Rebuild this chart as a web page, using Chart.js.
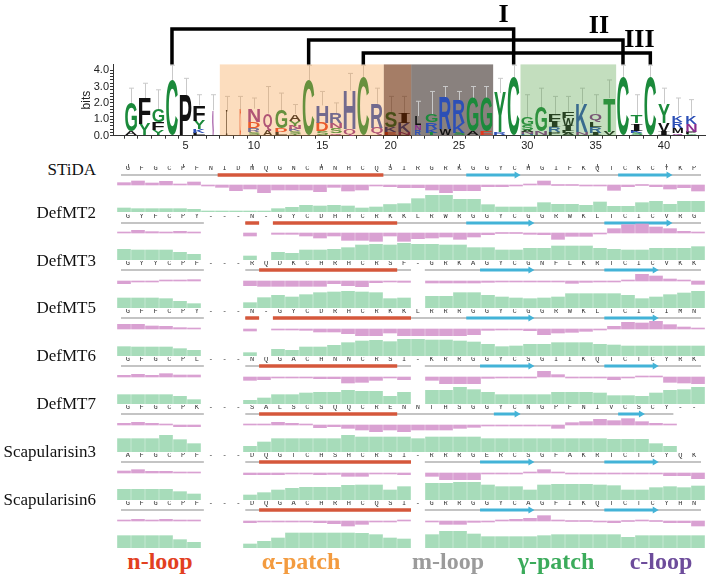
<!DOCTYPE html>
<html>
<head>
<meta charset="utf-8">
<script src="https://cdn.jsdelivr.net/npm/chart.js@4.4.1/dist/chart.umd.min.js"></script>
<style>
  body { margin: 0; background: #fff; }
  #fig { position: relative; width: 709px; height: 576px; overflow: hidden; background: #fff; }
  #fig canvas { position: absolute; }
  .name { position: absolute; left: 0; width: 96px; text-align: right; font: 17px "Liberation Serif", serif; line-height: 17px; color: #111; white-space: nowrap; }
  .part { position: absolute; width: 140px; text-align: center; font: bold 24px "Liberation Serif", serif; line-height: 24px; white-space: nowrap; }
</style>
</head>
<body>
<div id="fig"></div>
<script>
// alignment rows
const names = ['STiDA', 'DefMT2', 'DefMT3', 'DefMT5', 'DefMT6', 'DefMT7', 'Scapularisin3', 'Scapularisin6'];
const sequences = [
  'GFGCPFNIDNQGNCHNHCQSIRGRKGGYCHGIFKQTCKCYKP',
  'GYFCPY---N-GYCDHHCRKKLRWRGGYCGGRWKLTCICVRG',
  'GYYCPF---RQDKCHRHCRSF-GRKAGYCGNFLKRTCICVKK',
  'GFFCPY---N-GYCDRHCRKKLRRRGGYCGGRWKLTCICIMN',
  'GFGCPL---NQGACHNNCRSI-KRRGGYCSGIIKQTCTCYRK',
  'GFGCPK---SALSCSQQCRENNTHSGGYCNGPFNIVCSCY--',
  'AFGCPF---DQGTCHSHCRSI-RRRGERCSGFAKRTCTCYQK',
  'GFGCPF---DQGACHRHCQSI-GRRGGYCAGFIKQTCTCYHN'
];
// secondary structure: C coil, H helix, E strand, . gap
const structures = [
  'CCCCCCCHHHHHHHHHHHHCCCCCCEEEECCCCCCCEEEECC',
  'CCCCCC...H.HHHHHHHHHCCCCCEEEEECCCCCEEEEECC',
  'CCCCCC...CHHHHHHHHHHC.CCCCEEEECCCCCEEEECCC',
  'CCCCCC...H.HHHHHHHHHHCCCCEEEEECCCCCEEEECCC',
  'CCCCCC...CHHHHHHHHHHC.CCCCEEEECCCCCEEEECCC',
  'CCCCCC...CHHHHHHHHHHCCCCCCCEECCCCCCCEECC..',
  'CCCCCC...CHHHHHHHHHHH.CCCCEEEECCCCCEEEECCC',
  'CCCCCC...CHHHHHHHHHHH.CCCCEEEECCCCCEEEECCC'
];

// hydropathy (pink) per row
const kdSTiDA  = [0.7,1.2,0.6,1.1,0.1,0.9,-0.1,-0.7,-1.7,-1.2,-2.3,-1.5,-1.5,-1.5,-2.0,-0.7,-1.8,-1.5,-0.1,-0.5,-0.8,-0.8,-1.5,-2.3,-1.7,-1.7,-0.5,-0.5,-0.3,0.3,1.2,0,0,-0.2,-0.3,-1.6,-0.5,0,-0.5,-1.2,-0.8,-1.8];
const kdDefMT2 = [0.3,0.8,0.4,0.2,0.5,0.2,null,null,null,-0.9,null,-0.4,-0.4,-0.9,-1.5,-0.9,-2.2,-2.2,-2.5,-0.9,-2.5,-1.7,-1.5,-1.2,-1.9,-1.2,-0.5,0,0,-0.4,-0.5,-1.9,-1.0,-1.0,-0.1,1.3,2.5,2.7,1.8,1.3,0.5,0.2];
const kdDefMT3 = [-0.8,-0.2,-0.2,0.1,0.2,0.4,null,null,null,-1.4,-1.6,-1.6,-1.6,-1.6,-1.6,-0.8,-1.4,-1.7,-0.5,-0.2,-0.4,null,-0.6,-0.6,-0.6,-0.6,-0.4,-0.3,-0.3,-0.2,-0.2,-0.1,-0.7,-0.4,-0.3,-0.2,0.3,2.0,1.5,0.6,0.2,-1.0];
const kdDefMT5 = [1.4,1.4,0.9,0.8,0.4,0.1,null,null,null,-0.6,null,-0.3,-0.3,-0.4,-0.9,-0.9,-1.4,-2.0,-2.0,-1.2,-2.0,-2.0,-2.0,-2.0,-2.0,-1.7,-0.4,-0.2,-0.1,-0.5,-1.7,-1.2,-1.0,-0.7,-0.1,0.8,2.0,1.8,2.3,1.3,0.6,0.3];
const kdDefMT6 = [0.5,0.8,0.5,1.0,0.6,0.6,null,null,null,-1.0,-0.8,-0.3,-0.3,-0.3,-0.5,-0.5,-1.8,-1.6,-1.0,-0.2,-0.8,null,-1.0,-2.0,-2.0,-2.0,-0.4,-0.1,-0.1,-0.2,1.7,0.7,-0.1,-0.1,-0.1,-0.8,-0.1,0.2,0.1,-1.6,-1.8,-2.0];
const kdDefMT7 = [0.5,0.8,0.5,0.1,-0.5,-0.5,null,null,null,0.3,0.3,0.8,0.5,0.1,-0.8,-0.5,-1.0,-1.5,-2.0,-1.5,-2.0,-1.5,-1.5,-1.5,-1.0,-0.7,-0.1,-0.1,-0.1,-0.3,-0.1,-1.0,0.7,1.0,1.7,1.3,1.9,1.0,0.5,0.1,null,null];
const kdScap3  = [0.6,1.0,0.5,0.5,0.2,0.2,null,null,null,-0.5,-0.5,-0.5,-0.3,-0.3,-0.5,-0.4,-1.0,-1.0,-0.3,-0.1,-0.5,null,-1.0,-2.0,-2.0,-2.0,-0.3,-0.1,-0.1,0.1,1.0,0.1,-0.3,-0.3,-0.3,-0.3,-0.1,-0.1,-0.1,-0.8,-0.8,-1.7];
const kdScap6  = [0.2,0.5,0.2,0.5,0.2,0.2,null,null,null,-0.5,-0.3,-0.2,-0.3,-0.2,-0.5,-0.8,-1.5,-1.0,-0.1,-0.1,0.2,null,-0.2,-1.0,-1.0,-0.4,-0.1,0.3,0.5,0.8,1.6,0.3,0,0,-0.2,-0.5,0,0.2,0,-0.5,-0.5,-1.5];
const hydropathy = [kdSTiDA, kdDefMT2, kdDefMT3, kdDefMT5, kdDefMT6, kdDefMT7, kdScap3, kdScap6];

// similarity (green) per row
const simSTiDA  = [24,20,20,20,20,16,2,2,2,2,2,20,28,40,36,40,36,24,30,45,50,80,100,100,76,76,44,30,30,30,56,46,46,40,60,34,34,56,64,46,64,64];
const simDefMT2 = [64,60,60,60,46,34,null,null,null,24,null,46,40,60,60,64,74,90,94,90,100,94,94,90,90,74,74,60,60,70,70,84,84,84,70,64,60,60,70,70,70,80];
const simDefMT3 = [60,60,60,56,40,26,null,null,null,32,62,76,66,80,92,96,100,96,92,56,60,null,70,70,92,92,76,66,60,56,60,66,86,86,86,86,76,56,66,80,90,100];
const simDefMT5 = [56,54,54,54,44,34,null,null,null,20,null,40,34,54,54,64,80,90,94,86,100,100,96,96,90,84,70,56,60,70,70,80,80,80,70,66,60,60,60,60,60,60];
const simDefMT6 = [56,56,56,56,46,26,null,null,null,22,36,56,56,66,70,70,82,76,76,46,70,null,82,82,100,86,70,56,56,56,56,70,70,70,66,50,50,46,66,82,86,100];
const simDefMT7 = [80,80,80,100,74,50,null,null,null,34,60,80,80,80,80,80,100,90,90,90,90,80,90,90,90,90,80,80,80,80,80,80,80,80,80,76,76,76,50,34,null,null];
const simScap3  = [64,64,64,64,50,36,null,null,null,30,44,60,70,76,76,76,88,90,90,60,80,null,100,100,106,106,90,80,80,60,90,94,94,94,90,86,60,60,74,80,74,84];
const simScap6  = [74,74,74,74,50,34,null,null,null,24,40,60,90,90,90,90,90,88,80,60,54,null,80,100,100,84,68,68,68,68,74,80,80,80,80,80,64,74,74,74,74,74];
const similarity = [simSTiDA, simDefMT2, simDefMT3, simDefMT5, simDefMT6, simDefMT7, simScap3, simScap6];

// sequence logo, letters bottom -> top with their heights in bits
const logoLetters = ['AG','YF','YFG','C','P','LKYF','N','I','D','SRDN','AQ','LDG','TSKNYA','C','SDH','QSNR','QH','C','QR','EKS',
  'NKI','RNL','TKRG','WR','SKR','AG','EG','RY','C','HNASG','NG','PRIF','ALIWF','NK','IRLQ','VT','C','SKIT','C','IVY','QMRK','GPNK'];
const logoBits = [[0.25,1.75],[0.7,1.6],[0.35,0.45,0.8],[3.4],[2.45],[0.15,0.25,0.5,0.95],[1.55],[1.55],[1.55],[0.2,0.25,0.4,0.8],
  [0.3,1.05],[0.2,0.25,1.1],[0.12,0.15,0.15,0.2,0.3,0.4],[3.4],[0.3,0.5,1.05],[0.15,0.3,0.3,0.6],[0.4,2.35],[3.55],[0.5,1.45],[0.2,0.3,0.92],
  [0.2,0.55,0.6],[0.35,0.3,0.55],[0.15,0.25,0.4,0.5],[0.4,1.95],[0.15,0.6,1.43],[0.25,2.05],[0.25,2.05],[0.2,2.4],[3.55],[0.1,0.12,0.12,0.3,0.45],
  [0.25,1.5],[0.2,0.3,0.3,0.45],[0.15,0.15,0.3,0.45,0.4],[0.2,1.73],[0.15,0.4,0.3,0.5],[0.25,2.05],[3.55],[0.15,0.15,0.45,0.5],[3.55],[0.25,0.5,1.2],
  [0.15,0.3,0.4,0.4],[0.1,0.12,0.5,0.45]];
const logoErrTop = [2.9,3.2,2.8,4.3,3.5,2.5,2.5,2.4,2.4,2.3,3.0,2.6,1.9,4.3,2.7,2.0,3.8,4.3,2.9,2.4,
  2.4,2.1,2.7,3.0,2.7,3.0,3.0,3.5,4.3,2.5,2.9,2.4,2.4,2.9,2.5,3.4,4.3,2.5,4.3,2.9,2.3,2.2];
const logoPositions = logoLetters.map((_, i) => i + 1);
const rulerPositions = [1, 5, 10, 15, 20, 25, 30, 35, 40];

// shaded logo regions (positions) and disulfide bridges
const regionStart = [7.5, 19.5, 21.5, 29.5];
const regionEnd = [19.5, 21.5, 27.5, 36.5];
const bridgeFrom = [4, 14, 18];
const bridgeTo = [29, 37, 39];
const bridgeNames = ['I', 'II', 'III'];
const partNames = ['n-loop', 'α-patch', 'm-loop', 'γ-patch', 'c-loop'];

// ---------------------------------------------------------------
const fig = document.getElementById('fig');
const COLS = sequences[0].length;
const colLabels = Array.from({ length: COLS }, (_, i) => i);
const occupancy = colLabels.map(i => sequences.filter(s => s[i] !== '-').length / sequences.length);

function addCanvas(left, top, w, h) {
  const c = document.createElement('canvas');
  c.width = w; c.height = h;
  c.style.left = left + 'px'; c.style.top = top + 'px';
  c.style.width = w + 'px'; c.style.height = h + 'px';
  fig.appendChild(c);
  return c;
}

function baseOptions() {
  return {
    responsive: false, animation: false, devicePixelRatio: 1, events: [],
    layout: { padding: 0 },
    plugins: { legend: { display: false }, tooltip: { enabled: false } }
  };
}

function aaColor(ch) {
  if ('GSTYC'.includes(ch)) return '#1b8a3b';
  if ('KRH'.includes(ch)) return '#2c4fb6';
  if ('NQ'.includes(ch)) return '#8b2f8f';
  if ('DE'.includes(ch)) return '#e3371e';
  return '#111111';
}

// I is drawn with serifs so it does not turn into a solid block when stretched
const glyphFont = ch => (ch === 'I' ? 'bold 100px "Liberation Serif"' : 'bold 100px "Liberation Sans"');
const glyphBoxes = {};
function drawGlyph(ctx, ch, x0, x1, yTop, yBot, color) {
  ctx.save();
  ctx.font = glyphFont(ch);
  if (!glyphBoxes[ch]) {
    const m = ctx.measureText(ch);
    glyphBoxes[ch] = { l: m.actualBoundingBoxLeft, r: m.actualBoundingBoxRight, a: m.actualBoundingBoxAscent, d: m.actualBoundingBoxDescent };
  }
  const g = glyphBoxes[ch];
  const w = x1 - x0, h = yBot - yTop;
  if (w > 0.3 && h > 0.3) {
    const sx = w / (g.l + g.r), sy = h / (g.a + g.d);
    ctx.fillStyle = color;
    ctx.textAlign = 'left';
    ctx.textBaseline = 'alphabetic';
    ctx.translate(x0 + g.l * sx, yBot - g.d * sy);
    ctx.scale(sx, sy);
    ctx.fillText(ch, 0, 0);
  }
  ctx.restore();
}

// ---------------- logo ----------------
const logoPlugin = {
  id: 'logoGlyphs',
  beforeDatasetsDraw(chart, args, o) {
    const ctx = chart.ctx, xs = chart.scales.x, a = chart.chartArea;
    ctx.save();
    regionStart.forEach((s, j) => {
      if (o.over[j]) return;
      ctx.fillStyle = o.colors[j];
      ctx.fillRect(xs.getPixelForValue(s), a.top, xs.getPixelForValue(regionEnd[j]) - xs.getPixelForValue(s), a.bottom - a.top);
    });
    ctx.restore();
  },
  afterDatasetsDraw(chart, args, o) {
    const ctx = chart.ctx, xs = chart.scales.x, ys = chart.scales.y, a = chart.chartArea;
    const colW = xs.getPixelForValue(2) - xs.getPixelForValue(1);
    // error bars
    ctx.save();
    ctx.strokeStyle = '#c9c9c9';
    ctx.lineWidth = 1;
    logoErrTop.forEach((t, i) => {
      const total = logoBits[i].reduce((p, v) => p + v, 0);
      const x = Math.round(xs.getPixelForValue(i + 1)) + 0.5;
      const y0 = ys.getPixelForValue(total), y1 = ys.getPixelForValue(t);
      ctx.beginPath();
      ctx.moveTo(x, y0); ctx.lineTo(x, y1);
      ctx.moveTo(x - 2.5, y1); ctx.lineTo(x + 2.5, y1);
      ctx.stroke();
    });
    ctx.restore();
    // letters
    chart.data.datasets.forEach((ds, k) => {
      chart.getDatasetMeta(k).data.forEach((bar, i) => {
        const ch = logoLetters[i][k];
        if (!ch) return;
        const p = bar.getProps(['x', 'y', 'base'], true);
        const w = colW * 0.86 * occupancy[i];
        drawGlyph(ctx, ch, p.x - w / 2, p.x + w / 2, p.y, p.base, aaColor(ch));
      });
    });
    // translucent overlays
    ctx.save();
    regionStart.forEach((s, j) => {
      if (!o.over[j]) return;
      ctx.fillStyle = o.colors[j];
      ctx.fillRect(xs.getPixelForValue(s), a.top, xs.getPixelForValue(regionEnd[j]) - xs.getPixelForValue(s), a.bottom - a.top);
    });
    ctx.restore();
  },
  afterDraw(chart, args, o) {
    const ctx = chart.ctx, xs = chart.scales.x, top = chart.chartArea.top;
    ctx.save();
    ctx.strokeStyle = '#000';
    ctx.lineWidth = 3.5;
    ctx.lineJoin = 'miter';
    bridgeFrom.forEach((f, j) => {
      const x1 = xs.getPixelForValue(f), x2 = xs.getPixelForValue(bridgeTo[j]), y = o.levels[j];
      ctx.beginPath();
      ctx.moveTo(x1, top); ctx.lineTo(x1, y); ctx.lineTo(x2, y); ctx.lineTo(x2, top);
      ctx.stroke();
      ctx.font = 'bold 26px "Liberation Serif"';
      ctx.fillStyle = '#000';
      ctx.textAlign = 'center';
      ctx.textBaseline = 'alphabetic';
      ctx.fillText(bridgeNames[j], x2 + o.labelDx[j], o.labelY[j]);
    });
    ctx.restore();
  }
};

const maxRank = Math.max(...logoLetters.map(s => s.length));
const logoDatasets = [];
for (let k = 0; k < maxRank; k++) {
  logoDatasets.push({
    data: logoBits.map((b, i) => ({ x: i + 1, y: b[k] === undefined ? null : b[k] })),
    backgroundColor: 'rgba(0,0,0,0)',
    borderWidth: 0,
    barThickness: 12
  });
}

const logoOpts = baseOptions();
logoOpts.layout = { padding: { left: 75, right: 3.8, top: 64.4, bottom: 0 } };
logoOpts.scales = {
  x: {
    type: 'linear', min: 0.2, max: 42.5, stacked: true,
    afterBuildTicks: s => { s.ticks = logoPositions.map(v => ({ value: v })); },
    afterFit: s => { s.height = 24.3; },
    ticks: { autoSkip: false, maxRotation: 0, padding: 1, color: '#222', font: { family: 'Liberation Sans', size: 11 },
      callback: v => (v % 5 === 0 ? String(v) : '') },
    grid: { drawOnChartArea: false, tickLength: 3, color: '#333' },
    border: { color: '#333' }
  },
  y: {
    min: 0, max: 4.35, stacked: true,
    afterBuildTicks: s => { s.ticks = s.ticks.filter(t => t.value <= 4.21); },
    afterFit: s => { s.width = 38; },
    ticks: { stepSize: 0.2, autoSkip: false, padding: 1, color: '#222', font: { family: 'Liberation Sans', size: 11 },
      callback: v => (Math.abs(v - Math.round(v)) < 1e-6 ? v.toFixed(1) : '') },
    grid: { drawOnChartArea: false, tickLength: 3, color: '#333' },
    border: { color: '#333' },
    title: { display: true, text: 'bits', color: '#222', font: { family: 'Liberation Sans', size: 12 } }
  }
};
logoOpts.plugins.logoGlyphs = {
  colors: ['rgba(246,158,70,0.35)', 'rgba(105,38,0,0.6)', 'rgb(137,129,126)', 'rgba(84,160,69,0.35)'],
  over: [true, true, false, true],
  levels: [29, 40, 53],
  labelDx: [-10, -24, -11],
  labelY: [22, 33, 47]
};
new Chart(addCanvas(0, 0, 709, 160), { type: 'bar', data: { datasets: logoDatasets }, options: logoOpts, plugins: [logoPlugin] });

// ---------------- alignment rows ----------------
function runs(ss, test) {
  const out = [];
  let s = -1;
  for (let i = 0; i <= ss.length; i++) {
    const on = i < ss.length && test(ss[i]);
    if (on && s < 0) s = i;
    if (!on && s >= 0) { out.push([s, i - 1]); s = -1; }
  }
  return out;
}

const rulerPlugin = {
  id: 'ruler',
  afterDraw(chart, args, o) {
    if (!o.cols || !o.cols.length) return;
    const xs = chart.scales.x, ctx = chart.ctx;
    ctx.save();
    ctx.strokeStyle = '#666';
    ctx.lineWidth = 1;
    o.cols.forEach(c => {
      const px = Math.round(xs.getPixelForValue(c)) + 0.5;
      ctx.beginPath();
      ctx.moveTo(px, xs.top - 2); ctx.lineTo(px, xs.top + 1.5);
      ctx.stroke();
    });
    ctx.restore();
  }
};

function seqTrack(el, seq, ss, ruler) {
  const ds = [];
  const seg = (a, b) => [{ x: a - 0.5, y: 'ss' }, { x: b + 0.5, y: 'ss' }];
  runs(ss, c => c !== '.').forEach(([a, b]) => ds.push({ data: seg(a, b), borderColor: '#8a8a8a', borderWidth: 1.2, pointRadius: 0, order: 2, clip: false }));
  runs(ss, c => c === 'H').forEach(([a, b]) => ds.push({ data: seg(a, b), borderColor: '#d5573b', borderWidth: 3.5, pointRadius: 0, order: 1, clip: false }));
  runs(ss, c => c === 'E').forEach(([a, b]) => ds.push({
    data: [{ x: a - 0.5, y: 'ss' }, { x: b + 0.15, y: 'ss' }],
    borderColor: '#43b3d7', backgroundColor: '#43b3d7', borderWidth: 3,
    pointStyle: 'triangle', rotation: 90, pointRadius: [0, 4], pointBorderWidth: 0, order: 1, clip: false
  }));
  const o = baseOptions();
  o.layout = { padding: { top: 5, bottom: 6 } };
  o.scales = {
    x: {
      type: 'linear', position: 'top', min: -0.5, max: COLS - 0.5,
      afterBuildTicks: s => { s.ticks = colLabels.map(v => ({ value: v })); },
      ticks: { autoSkip: false, maxRotation: 0, minRotation: 0, padding: 0, color: '#333',
        font: { family: 'Liberation Mono', size: 7 }, callback: v => seq[v] },
      grid: { display: false, drawTicks: false },
      border: { display: false }
    },
    y: { type: 'category', labels: ['ss'], offset: true, display: false }
  };
  o.plugins.ruler = { cols: ruler ? rulerPositions.map(p => p - 1) : [] };
  return new Chart(el, { type: 'line', data: { datasets: ds }, options: o, plugins: [rulerPlugin] });
}

function barTrack(el, values, color, min, max) {
  const o = baseOptions();
  o.scales = { x: { display: false }, y: { display: false, min: min, max: max } };
  return new Chart(el, {
    type: 'bar',
    data: { labels: colLabels, datasets: [{ data: values, backgroundColor: color, borderWidth: 0, barThickness: 13, minBarLength: 1 }] },
    options: o
  });
}

const rowY0 = 168, rowStep = 47.9;
names.forEach((name, r) => {
  const L = rowY0 + rowStep * r;
  const d = document.createElement('div');
  d.className = 'name';
  d.textContent = name;
  d.style.top = (L + (r === 0 ? 7 : 2) - 14.3) + 'px';
  fig.appendChild(d);
  seqTrack(addCanvas(117, Math.round(L - 7.4), 588, 23), sequences[r], structures[r], r === 0);
  barTrack(addCanvas(117, Math.round(L + 7.3), 588, 20), hydropathy[r], '#d9a1d2', -3, 3);
  barTrack(addCanvas(117, Math.round(L + 26.3), 588, 18), similarity[r], '#a7dcba', 0, 108);
});

// region names under the alignment
const partCenters = [160, 301, 448, 556, 661];
const partColors = ['#e2401f', '#f39b3f', '#9b9b9b', '#3bab5b', '#6d4c9b'];
partNames.forEach((t, j) => {
  const d = document.createElement('div');
  d.className = 'part';
  d.textContent = t;
  d.style.left = (partCenters[j] - 70) + 'px';
  d.style.top = '549px';
  d.style.color = partColors[j];
  fig.appendChild(d);
});
</script>
</body>
</html>
